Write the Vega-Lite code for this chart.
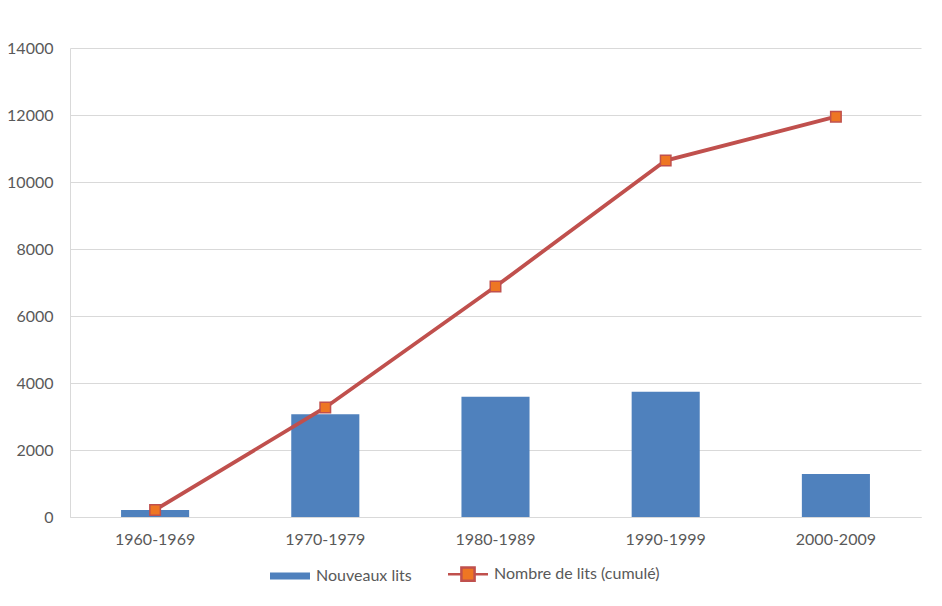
{
  "$schema": "https://vega.github.io/schema/vega-lite/v6.json",
  "width": 851,
  "height": 469,
  "autosize": {"type": "none"},
  "padding": {"left": 70, "top": 48, "right": 21, "bottom": 89},
  "background": "white",
  "config": {
    "view": {"stroke": null},
    "font": "Lato",
    "axis": {"labelFont": "Lato", "labelFontSize": 16, "labelColor": "#595959", "gridColor": "#D9D9D9", "domainColor": "#D9D9D9", "ticks": false, "title": null}
  },
  "data": {
    "values": [
      {"period": "1960-1969", "nouveaux": 210, "cumule": 210},
      {"period": "1970-1979", "nouveaux": 3070, "cumule": 3270},
      {"period": "1980-1989", "nouveaux": 3590, "cumule": 6880},
      {"period": "1990-1999", "nouveaux": 3740, "cumule": 10640},
      {"period": "2000-2009", "nouveaux": 1280, "cumule": 11950}
    ]
  },
  "encoding": {
    "x": {
      "field": "period", "type": "nominal", "sort": null,
      "scale": {"paddingInner": 0.6, "paddingOuter": 0.3},
      "axis": {"labelAngle": 0, "labelPadding": 14, "grid": false, "domain": true}
    }
  },
  "layer": [
    {
      "mark": {"type": "bar"},
      "encoding": {
        "y": {"field": "nouveaux", "type": "quantitative", "scale": {"domain": [0, 14000]},
          "axis": {"values": [0, 2000, 4000, 6000, 8000, 10000, 12000, 14000], "labelPadding": 17, "grid": true, "domain": true, "format": "d"}},
        "color": {"datum": "Nouveaux lits", "type": "nominal",
          "scale": {"domain": ["Nouveaux lits", "Nombre de lits (cumulé)"], "range": ["#4F81BD", "#EE7623"]},
          "legend": {
            "title": null, "orient": "none", "legendX": 212, "legendY": 518, "direction": "horizontal",
            "labelFont": "Lato", "labelFontSize": 16, "labelColor": "#595959", "labelLimit": 400,
            "symbolSize": 1600, "labelOffset": 18, "columnPadding": 31,
            "encode": {
              "symbols": {
                "update": {
                  "shape": {"signal": "datum.value === 'Nouveaux lits' ? 'M-1,-0.18H1V0.18H-1Z' : 'M-1,0H-0.33M0.33,0H1M-0.33,-0.33H0.33V0.33H-0.33Z'"},
                  "stroke": {"signal": "datum.value === 'Nouveaux lits' ? '#4F81BD' : '#C0504D'"},
                  "strokeWidth": {"signal": "datum.value === 'Nouveaux lits' ? 0 : 2.5"},
                  "opacity": {"value": 1},
                  "fillOpacity": {"value": 1},
                  "strokeOpacity": {"value": 1}
                }
              }
            }
          }
        }
      }
    },
    {
      "mark": {"type": "line", "strokeWidth": 3.8, "color": "#C0504D"},
      "encoding": {
        "y": {"field": "cumule", "type": "quantitative"}
      }
    },
    {
      "mark": {"type": "point", "shape": "square", "filled": true, "stroke": "#C0504D", "strokeWidth": 1.5, "size": 110, "opacity": 1},
      "encoding": {
        "y": {"field": "cumule", "type": "quantitative"},
        "color": {"datum": "Nombre de lits (cumulé)", "type": "nominal"}
      }
    }
  ]
}
